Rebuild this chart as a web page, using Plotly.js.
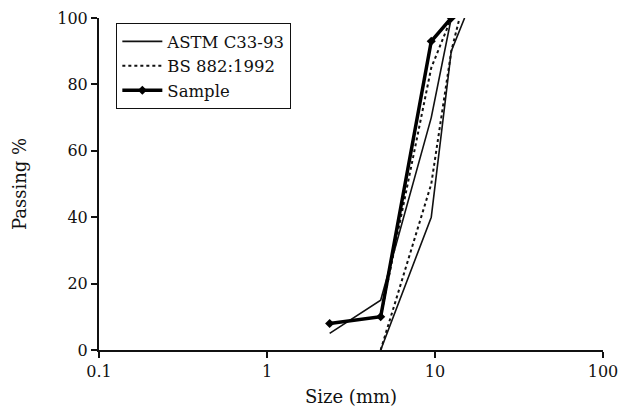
<!DOCTYPE html>
<html>
<head>
<meta charset="utf-8">
<script src="https://cdn.plot.ly/plotly-3.0.1.min.js"></script>
<style>html,body{margin:0;padding:0;background:#fff;}#chart{width:619px;height:408px;}</style>
</head>
<body>
<div id="chart"></div>
<script>
// Sieve sizes (mm) and percent passing
const astmUpperSize = [2.36, 4.75, 9.5, 12.5];
const astmUpperPass = [5, 15, 70, 100];
const astmLowerSize = [4.75, 9.5, 12.5, 15];
const astmLowerPass = [0, 40, 90, 100];
const bsUpperSize = [4.75, 9.5, 12.5];
const bsUpperPass = [10, 85, 100];
const bsLowerSize = [4.75, 9.5, 12.5, 14];
const bsLowerPass = [0, 50, 90, 100];
const sampleSize = [2.36, 4.75, 9.5, 12.5];
const samplePass = [8, 10, 93, 100];
const xTickVals = [0.1, 1, 10, 100];
const xTickText = ['0.1', '1', '10', '100'];
const yTickVals = [0, 20, 40, 60, 80, 100];

const FONT = 'DejaVu Serif, Liberation Serif, serif';
const thin = {color: '#111', width: 1.6};
const dotted = {color: '#111', width: 2, dash: 'dot'};

const traces = [
  {x: astmUpperSize, y: astmUpperPass, mode: 'lines', line: thin, name: 'ASTM C33-93', legendgroup: 'astm'},
  {x: astmLowerSize, y: astmLowerPass, mode: 'lines', line: thin, name: 'ASTM C33-93', legendgroup: 'astm', showlegend: false},
  {x: bsUpperSize, y: bsUpperPass, mode: 'lines', line: dotted, name: 'BS 882:1992', legendgroup: 'bs'},
  {x: bsLowerSize, y: bsLowerPass, mode: 'lines', line: dotted, name: 'BS 882:1992', legendgroup: 'bs', showlegend: false},
  {x: sampleSize, y: samplePass, mode: 'lines+markers', name: 'Sample',
   line: {color: '#000', width: 3.5}, marker: {symbol: 'diamond', size: 7, color: '#000'}}
];

const layout = {
  width: 619, height: 408,
  margin: {l: 99, r: 16, t: 18, b: 58},
  paper_bgcolor: '#fff', plot_bgcolor: '#fff',
  font: {family: FONT, size: 16, color: '#111'},
  showlegend: true,
  legend: {x: 0.034, y: 0.985, xanchor: 'left', yanchor: 'top',
    bordercolor: '#111', borderwidth: 1.2, bgcolor: '#fff', itemwidth: 40,
    font: {family: FONT, size: 16.5, color: '#111'}, tracegroupgap: 0},
  xaxis: {type: 'log', range: [-1, 2], tickvals: xTickVals, ticktext: xTickText,
    showgrid: false, zeroline: false, showline: true, linecolor: '#111', linewidth: 2,
    ticks: 'outside', ticklen: 6, tickwidth: 2, tickcolor: '#111', ticklabeloverflow: 'allow',
    tickfont: {family: FONT, size: 16, color: '#111'},
    title: {text: 'Size (mm)', font: {family: FONT, size: 18, color: '#111'}, standoff: 10}},
  yaxis: {range: [0, 100], tickvals: yTickVals,
    showgrid: false, zeroline: false, showline: true, linecolor: '#111', linewidth: 2,
    ticks: 'outside', ticklen: 6, tickwidth: 2, tickcolor: '#111', ticklabeloverflow: 'allow',
    tickfont: {family: FONT, size: 16, color: '#111'},
    title: {text: 'Passing %', font: {family: FONT, size: 18, color: '#111'}, standoff: 26}},
  hovermode: false
};

Plotly.newPlot('chart', traces, layout, {staticPlot: true, displayModeBar: false});
</script>
</body>
</html>
